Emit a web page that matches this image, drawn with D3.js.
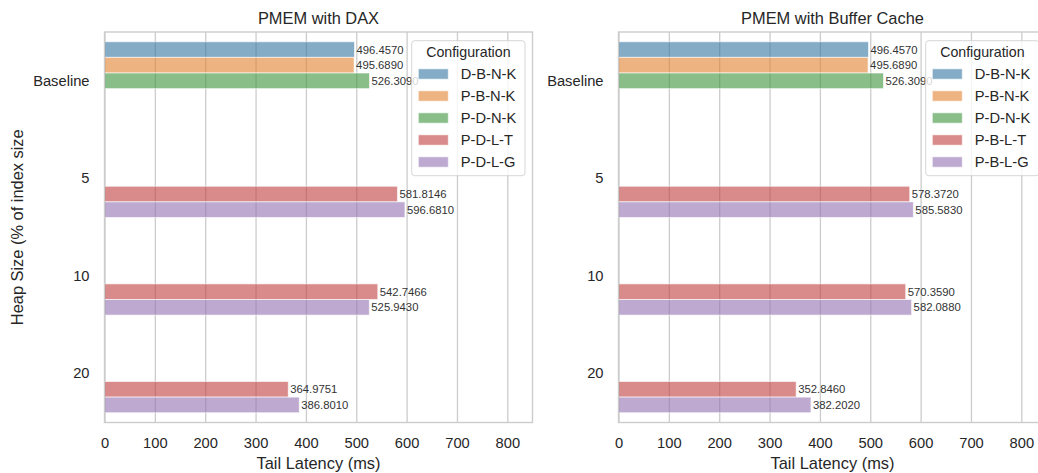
<!DOCTYPE html>
<html>
<head>
<meta charset="utf-8">
<script src="https://cdn.jsdelivr.net/npm/d3@7"></script>
<style>
  html, body { margin: 0; padding: 0; background: #fff; }
  svg { display: block; font-family: "Liberation Sans", Arial, sans-serif; }
</style>
</head>
<body>
<svg id="chart" width="1038" height="473"></svg>
<script>
// Heap size categories (y axis)
const categories = ["Baseline", "5", "10", "20"];

// Hue order and colours for each panel
const configsDax = ["D-B-N-K", "P-B-N-K", "P-D-N-K", "P-D-L-T", "P-D-L-G"];
const configsCache = ["D-B-N-K", "P-B-N-K", "P-D-N-K", "P-B-L-T", "P-B-L-G"];
const hueColors = ["#3274a1", "#e1812c", "#3a923a", "#c03d3e", "#9372b2"];

// Tail latency (ms) per configuration, one entry per category (null = not measured)
const daxDBNK = [496.4570, null, null, null];
const daxPBNK = [495.6890, null, null, null];
const daxPDNK = [526.3090, null, null, null];
const daxPDLT = [null, 581.8146, 542.7466, 364.9751];
const daxPDLG = [null, 596.6810, 525.9430, 386.8010];

const cacheDBNK = [496.4570, null, null, null];
const cachePBNK = [495.6890, null, null, null];
const cachePDNK = [526.3090, null, null, null];
const cachePBLT = [null, 578.3720, 570.3590, 352.8460];
const cachePBLG = [null, 585.5830, 582.0880, 382.2020];

const xTicks = [0, 100, 200, 300, 400, 500, 600, 700, 800];
const xMax = 850;

const panels = [
  { title: "PMEM with DAX", left: 104.5, configs: configsDax,
    series: [daxDBNK, daxPBNK, daxPDNK, daxPDLT, daxPDLG], yLabel: true },
  { title: "PMEM with Buffer Cache", left: 618.5, configs: configsCache,
    series: [cacheDBNK, cachePBNK, cachePDNK, cachePBLT, cachePBLG], yLabel: false }
];

const svg = d3.select("#chart");
const plotTop = 32, plotBottom = 422.5, plotW = 428;
const textColor = "#262626";
const gridColor = "#cccccc";

panels.forEach(p => {
  const g = svg.append("g");
  const x = d3.scaleLinear().domain([0, xMax]).range([p.left, p.left + plotW]);
  const y = d3.scaleBand().domain(categories).range([plotTop, plotBottom]).padding(0);
  const bw = y.bandwidth();
  const yHue = d3.scaleBand().domain(p.configs).range([0.1 * bw, 0.9 * bw]).padding(0);

  // vertical grid + x tick labels
  const xAxis = g.append("g")
    .attr("transform", `translate(0,${plotBottom})`)
    .call(d3.axisBottom(x).tickValues(xTicks).tickSize(-(plotBottom - plotTop)).tickPadding(15).tickFormat(d3.format("d")));
  xAxis.select(".domain").remove();
  xAxis.selectAll(".tick line").attr("stroke", gridColor).attr("stroke-width", 1.3);
  xAxis.selectAll(".tick text").attr("fill", textColor).style("font-size", "14.7px");

  // y tick labels
  const yAxis = g.append("g")
    .attr("transform", `translate(${p.left},0)`)
    .call(d3.axisLeft(y).tickSize(0).tickPadding(15));
  yAxis.select(".domain").remove();
  yAxis.selectAll(".tick text").attr("fill", textColor).style("font-size", "14.7px");

  // bars
  const rows = [];
  p.series.forEach((vals, j) => {
    vals.forEach((v, i) => {
      if (v !== null) rows.push({ cat: categories[i], conf: p.configs[j], color: hueColors[j], value: v });
    });
  });

  g.append("g").selectAll("rect").data(rows).join("rect")
    .attr("x", x(0))
    .attr("y", d => y(d.cat) + yHue(d.conf))
    .attr("width", d => x(d.value) - x(0))
    .attr("height", yHue.bandwidth())
    .attr("fill", d => d.color)
    .attr("fill-opacity", 0.6)
    .attr("stroke", "#ffffff")
    .attr("stroke-opacity", 0.6)
    .attr("stroke-width", 1);

  // value labels
  g.append("g").selectAll("text").data(rows).join("text")
    .attr("x", d => x(d.value) + 2)
    .attr("y", d => y(d.cat) + yHue(d.conf) + yHue.bandwidth() / 2)
    .attr("dy", "0.35em")
    .attr("fill", "#333333")
    .style("font-size", "11.3px")
    .text(d => d.value.toFixed(4));

  // frame
  g.append("rect")
    .attr("x", x(0)).attr("y", plotTop)
    .attr("width", plotW).attr("height", plotBottom - plotTop)
    .attr("fill", "none").attr("stroke", gridColor).attr("stroke-width", 1.4);

  // title
  g.append("text")
    .attr("x", p.left + plotW / 2).attr("y", 18.5).attr("dy", "0.35em")
    .attr("text-anchor", "middle").attr("fill", textColor)
    .style("font-size", "16.4px").text(p.title);

  // x axis label
  g.append("text")
    .attr("x", p.left + plotW / 2).attr("y", 463.5).attr("dy", "0.35em")
    .attr("text-anchor", "middle").attr("fill", textColor)
    .style("font-size", "16.4px").text("Tail Latency (ms)");

  if (p.yLabel) {
    g.append("text")
      .attr("transform", `translate(17,${(plotTop + plotBottom) / 2}) rotate(-90)`)
      .attr("dy", "0.35em")
      .attr("text-anchor", "middle").attr("fill", textColor)
      .style("font-size", "16.4px").text("Heap Size (% of index size");
  }

  // legend
  const lx = p.left + 307.2, ly = 40.7, lw = 113.3, lh = 135;
  const leg = g.append("g").attr("transform", `translate(${lx},${ly})`);
  leg.append("rect")
    .attr("width", lw).attr("height", lh).attr("rx", 3)
    .attr("fill", "#ffffff").attr("fill-opacity", 0.8)
    .attr("stroke", "#cccccc").attr("stroke-opacity", 0.8).attr("stroke-width", 1);
  leg.append("text")
    .attr("x", lw / 2).attr("y", 11.5).attr("dy", "0.35em")
    .attr("text-anchor", "middle").attr("fill", textColor)
    .style("font-size", "14.2px").text("Configuration");
  const items = leg.selectAll("g.item").data(p.configs).join("g")
    .attr("class", "item")
    .attr("transform", (d, i) => `translate(0,${33.3 + i * 22})`);
  items.append("rect")
    .attr("x", 6.6).attr("y", -5.2).attr("width", 30).attr("height", 10.4)
    .attr("fill", (d, i) => hueColors[i]).attr("fill-opacity", 0.6)
    .attr("stroke", "#ffffff").attr("stroke-opacity", 0.6);
  items.append("text")
    .attr("x", 49).attr("dy", "0.35em").attr("fill", textColor)
    .style("font-size", "14.7px").text(d => d);
});
</script>
</body>
</html>
